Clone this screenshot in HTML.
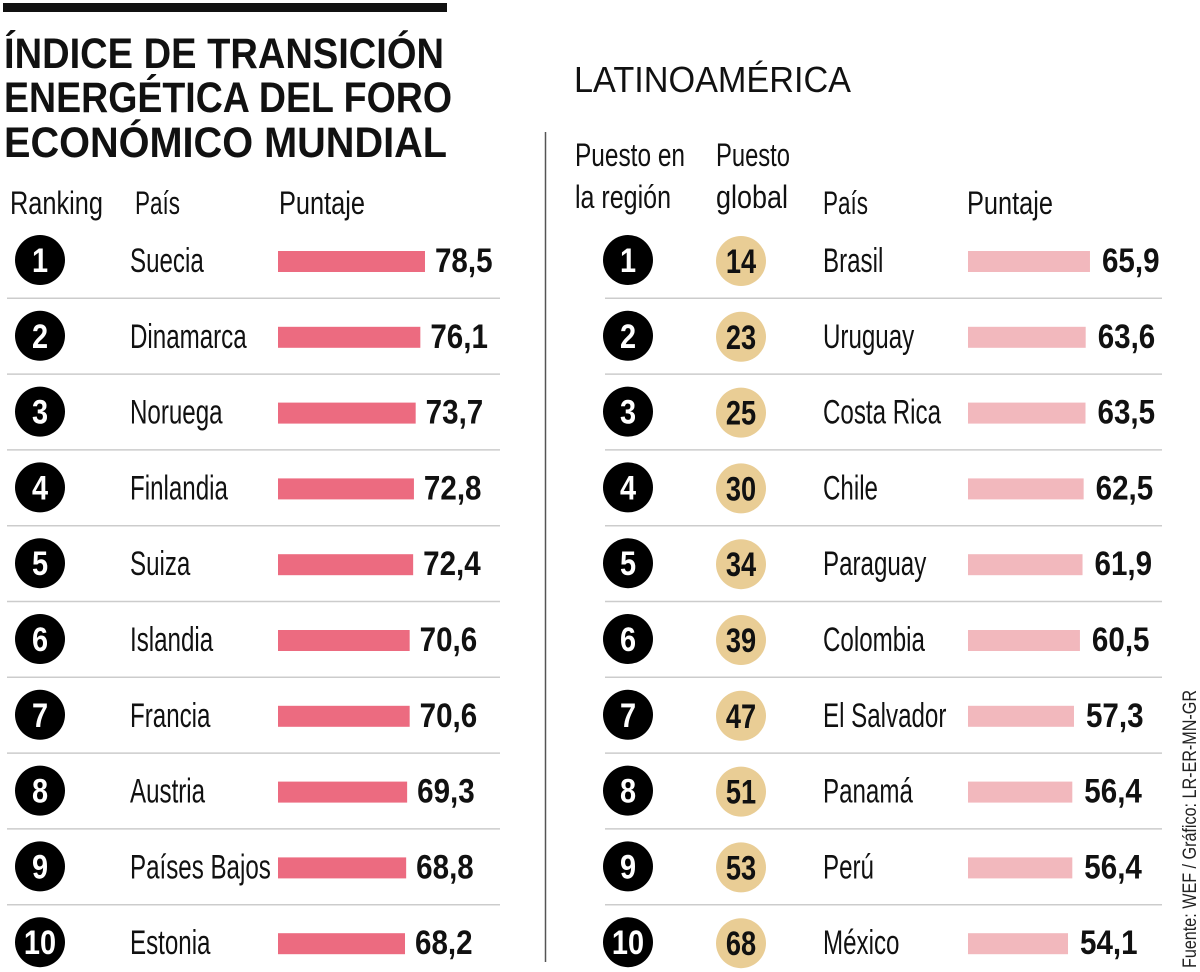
<!DOCTYPE html>
<html><head><meta charset="utf-8">
<style>
body{margin:0;background:#fff;width:1200px;height:972px;overflow:hidden;}
svg{display:block;font-family:"Liberation Sans Narrow","Liberation Sans",sans-serif;}
</style></head>
<body>
<svg id="c" width="1200" height="972" viewBox="0 0 1200 972">
<rect x="3" y="3" width="444" height="9" fill="#111"/>
<g font-weight="bold" font-size="43" fill="#111">
<text x="4" y="68" textLength="440" lengthAdjust="spacingAndGlyphs">ÍNDICE DE TRANSICIÓN</text>
<text x="4" y="112" textLength="448" lengthAdjust="spacingAndGlyphs">ENERGÉTICA DEL FORO</text>
<text x="4" y="157" textLength="443" lengthAdjust="spacingAndGlyphs">ECONÓMICO MUNDIAL</text>
</g>
<text x="574" y="92" font-size="36" fill="#111" textLength="277" lengthAdjust="spacingAndGlyphs">LATINOAMÉRICA</text>
<line x1="545.5" y1="132" x2="545.5" y2="962" stroke="#555" stroke-width="1.5"/>
<g font-size="32" fill="#111">
<text x="10" y="214" textLength="93" lengthAdjust="spacingAndGlyphs">Ranking</text>
<text x="135" y="214" textLength="45" lengthAdjust="spacingAndGlyphs">País</text>
<text x="279" y="214" textLength="86" lengthAdjust="spacingAndGlyphs">Puntaje</text>
</g>
<g font-size="32" fill="#111">
<text x="575" y="166" textLength="110" lengthAdjust="spacingAndGlyphs">Puesto en</text>
<text x="575" y="208" textLength="96" lengthAdjust="spacingAndGlyphs">la región</text>
<text x="716" y="166" textLength="74" lengthAdjust="spacingAndGlyphs">Puesto</text>
<text x="716" y="208" textLength="72" lengthAdjust="spacingAndGlyphs">global</text>
<text x="823" y="214" textLength="45" lengthAdjust="spacingAndGlyphs">País</text>
<text x="967" y="214" textLength="86" lengthAdjust="spacingAndGlyphs">Puntaje</text>
</g>
<g id="left"></g>
<g id="right"></g>
<text transform="translate(1196,968) rotate(-90)" font-size="19" fill="#222" textLength="278" lengthAdjust="spacingAndGlyphs">Fuente: WEF / Gráfico: LR-ER-MN-GR</text>
</svg>
<script>
const worldCountries=["Suecia","Dinamarca","Noruega","Finlandia","Suiza","Islandia","Francia","Austria","Países Bajos","Estonia"];
const worldScores=[78.5,76.1,73.7,72.8,72.4,70.6,70.6,69.3,68.8,68.2];
const latamCountries=["Brasil","Uruguay","Costa Rica","Chile","Paraguay","Colombia","El Salvador","Panamá","Perú","México"];
const latamGlobal=[14,23,25,30,34,39,47,51,53,68];
const latamScores=[65.9,63.6,63.5,62.5,61.9,60.5,57.3,56.4,56.4,54.1];

const NS="http://www.w3.org/2000/svg";
function mk(tag,attrs,parent,txt){const e=document.createElementNS(NS,tag);for(const k in attrs)e.setAttribute(k,attrs[k]);if(txt!==undefined)e.textContent=txt;parent.appendChild(e);return e;}
function tx(x,y,sx,attrs,parent,txt){attrs.transform='translate('+x+','+y+') scale('+sx+',1)';attrs.x=0;attrs.y=0;return mk('text',attrs,parent,txt);}
const rowY=i=>260+i*75.8;
const wLeft=v=>1.94*v-5.3;
const wRight=v=>1.86*v-0.6;
const fmt=v=>v.toFixed(1).replace('.',',');

const L=document.getElementById('left');
worldCountries.forEach((c,i)=>{
  const y=rowY(i);
  const g=mk('g',{},L);
  
  
  if(i>0){const s=mk('line',{x1:7,x2:500,y1:y-37.5,y2:y-37.5,stroke:'#ccc','stroke-width':1.5},g);
    }
  const ci=mk('circle',{cx:40,cy:y,r:25,fill:'#000'},g);
  
  const rt=tx(40,y+12,0.85,{'text-anchor':'middle','font-size':34,'font-weight':'bold',fill:'#fff'},g,String(i+1));
  
  const ct=tx(130,y+12,0.71,{'font-size':34,fill:'#111'},g,c);
  
  const w=wLeft(worldScores[i]);
  const b=mk('rect',{x:278,y:y-9,width:w,height:21,fill:'#ec6b80'},g);
  
  const vt=tx(278+w+10,y+12,0.87,{'font-size':34,'font-weight':'bold',fill:'#111'},g,fmt(worldScores[i]));
  
});

const R=document.getElementById('right');
latamCountries.forEach((c,i)=>{
  const y=rowY(i);
  const g=mk('g',{},R);
  
  
  if(i>0){const s=mk('line',{x1:605,x2:1162,y1:y-37.5,y2:y-37.5,stroke:'#ccc','stroke-width':1.5},g);
    }
  const ci=mk('circle',{cx:628,cy:y,r:25,fill:'#000'},g);
  
  const rt=tx(628,y+12,0.85,{'text-anchor':'middle','font-size':34,'font-weight':'bold',fill:'#fff'},g,String(i+1));
  
  const gc=mk('circle',{cx:741,cy:y+1,r:25,fill:'#e9cd95'},g);
  
  const gt=tx(741,y+13,0.8,{'text-anchor':'middle','font-size':34,'font-weight':'bold',fill:'#111'},g,String(latamGlobal[i]));
  
  const ct=tx(823,y+12,0.71,{'font-size':34,fill:'#111'},g,c);
  
  const w=wRight(latamScores[i]);
  const b=mk('rect',{x:968,y:y-9,width:w,height:21,fill:'#f2b8bd'},g);
  
  const vt=tx(968+w+12,y+12,0.87,{'font-size':34,'font-weight':'bold',fill:'#111'},g,fmt(latamScores[i]));
  
});
</script>
</body></html>
